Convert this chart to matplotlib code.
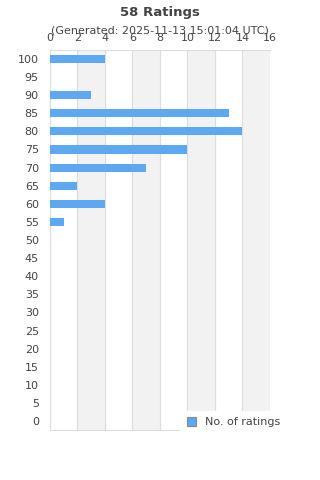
import matplotlib
matplotlib.use('Agg')
import matplotlib.pyplot as plt
from matplotlib.patches import Patch

# rating buckets and counts
ratings = [100, 95, 90, 85, 80, 75, 70, 65, 60, 55, 50, 45, 40, 35, 30, 25, 20, 15, 10, 5, 0]
counts = [4, 0, 3, 13, 14, 10, 7, 2, 4, 1, 0, 0, 0, 0, 0, 0, 0, 0, 0, 0, 0]
xticks = [0, 2, 4, 6, 8, 10, 12, 14, 16]

txt = '#444444'
blue = '#5ea8f2'

fig = plt.figure(figsize=(3.2, 4.8), dpi=100)
ax = fig.add_axes([0.156, 0.104, 0.6875, 0.792])

pos = list(range(len(ratings)))
ax.barh(pos, counts, height=0.45, color=blue, zorder=3)
ax.set_ylim(len(ratings) - 0.5, -0.5)
ax.set_xlim(0, 16)

# alternating bands
for i in range(1, len(xticks) - 1, 2):
    ax.axvspan(xticks[i], xticks[i + 1], color='#f2f2f2', zorder=0)
for x in xticks:
    ax.axvline(x, color='#dddddd', lw=0.8, zorder=1)

ax.set_yticks(pos)
ax.set_yticklabels([str(r) for r in ratings])
ax.set_xticks(xticks)
ax.xaxis.tick_top()
ax.tick_params(axis='both', length=0, labelsize=8, colors=txt)
ax.tick_params(axis='x', pad=5)
ax.tick_params(axis='y', pad=8)
ax.spines['right'].set_visible(False)
for s in ['top', 'left', 'bottom']:
    ax.spines[s].set_color('#dddddd')

fig.text(0.5, 0.974, '58 Ratings', ha='center', va='center', fontsize=9.5,
         fontweight='bold', color=txt)
fig.text(0.5, 0.937, '(Generated: 2025-11-13 15:01:04 UTC)', ha='center',
         va='center', fontsize=8, color=txt)

h = Patch(facecolor=blue, edgecolor='#888888', lw=0.8)
leg = fig.legend([h], ['No. of ratings'], loc='center', bbox_to_anchor=(0.73, 0.12),
                 frameon=True, fontsize=8, handlelength=0.8, handleheight=0.8,
                 borderpad=0.6, fancybox=False, edgecolor='white', facecolor='white',
                 framealpha=1)
for t in leg.get_texts():
    t.set_color(txt)

fig.savefig('out.png', dpi=100)
